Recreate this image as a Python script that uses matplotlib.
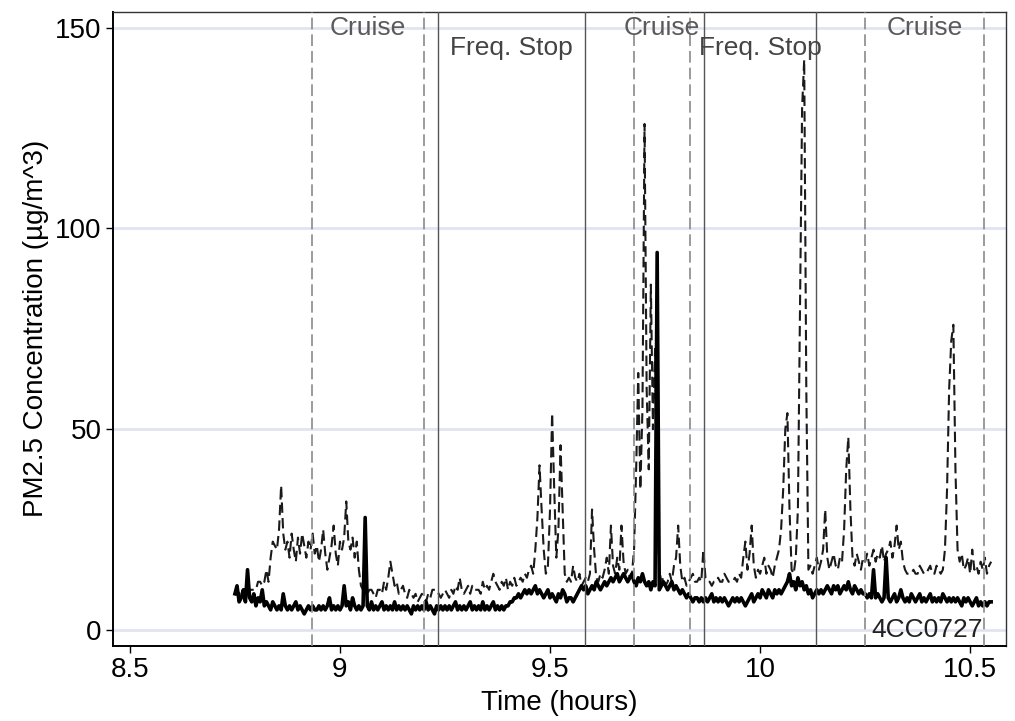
"""
PM2.5 concentration trace with cruise / frequent-stop segments marked.
"""
import numpy as np
import matplotlib.pyplot as plt

plt.rcParams["font.family"] = ["Liberation Sans", "DejaVu Sans"]

# sample times: 8.75 h to 10.55 h every 0.005 h
T_START = 8.75
T_STEP = 0.005

# thick solid trace
solid_vals = [
    9, 11, 7, 8, 10, 7, 15, 8, 7, 9, 6, 8, 7, 10, 6, 7, 6, 5, 7, 6,
    5, 6, 5, 9, 6, 5, 6, 5, 6, 7, 5, 6, 5, 4, 5, 6, 5, 6, 5, 5,
    6, 5, 6, 5, 6, 8, 5, 6, 5, 6, 5, 6, 11, 6, 7, 5, 8, 6, 5, 6,
    5, 6, 28, 6, 5, 7, 5, 6, 5, 6, 7, 5, 6, 5, 6, 5, 7, 5, 6, 5,
    6, 5, 6, 5, 4, 6, 5, 6, 5, 6, 5, 7, 5, 6, 5, 4, 6, 5, 6, 5,
    6, 5, 6, 5, 6, 7, 5, 6, 5, 6, 5, 6, 7, 5, 6, 5, 6, 5, 7, 5,
    6, 5, 6, 7, 5, 6, 5, 6, 5, 6, 6, 7, 7, 8, 8, 9, 8, 9, 10, 9,
    10, 9, 10, 11, 9, 10, 9, 8, 9, 10, 8, 9, 8, 7, 9, 8, 10, 9, 7, 8,
    8, 7, 8, 9, 10, 11, 10, 11, 9, 10, 11, 10, 12, 11, 10, 11, 12, 11, 12, 13,
    12, 13, 14, 12, 13, 14, 13, 12, 13, 14, 12, 11, 13, 12, 14, 12, 11, 12, 10, 12,
    11, 94, 10, 11, 12, 11, 10, 11, 12, 10, 11, 10, 9, 10, 9, 8, 9, 8, 7, 8,
    8, 7, 8, 7, 8, 7, 8, 9, 7, 8, 7, 8, 7, 8, 7, 6, 7, 8, 7, 8,
    7, 8, 7, 6, 7, 8, 9, 7, 8, 9, 8, 10, 9, 8, 10, 9, 8, 10, 9, 10,
    9, 10, 11, 12, 14, 11, 12, 10, 13, 11, 12, 10, 11, 9, 10, 8, 9, 10, 9, 10,
    9, 10, 11, 10, 9, 11, 10, 11, 9, 10, 11, 10, 12, 10, 9, 11, 10, 9, 10, 9,
    9, 8, 9, 8, 15, 8, 9, 8, 7, 8, 18, 8, 7, 8, 9, 7, 8, 10, 8, 7,
    8, 7, 9, 8, 7, 8, 9, 7, 8, 7, 8, 9, 7, 8, 7, 8, 7, 9, 8, 7,
    8, 7, 8, 7, 8, 7, 6, 8, 7, 8, 7, 6, 7, 8, 6, 7, 6, 7, 6, 7,
    7,
]

# thin dashed trace
dashed_vals = [
    9, 10, 9, 10, 10, 10, 10, 10, 10, 10, 10, 12, 12, 11, 12, 15, 12, 18, 22, 21,
    20, 25, 36, 24, 20, 22, 18, 24, 20, 17, 23, 19, 24, 21, 18, 22, 20, 24, 19, 21,
    17, 20, 25, 19, 15, 18, 21, 26, 19, 16, 22, 20, 23, 32, 22, 20, 23, 18, 22, 15,
    11, 10, 10, 9, 10, 10, 9, 8, 10, 10, 9, 12, 10, 13, 17, 14, 11, 12, 9, 10,
    11, 9, 8, 10, 9, 8, 9, 7, 8, 9, 8, 7, 9, 8, 10, 10, 10, 9, 8, 9,
    10, 9, 8, 10, 9, 11, 10, 13, 10, 9, 10, 11, 9, 11, 10, 10, 10, 9, 12, 10,
    11, 10, 12, 14, 12, 11, 10, 12, 11, 13, 10, 12, 11, 13, 11, 12, 13, 12, 14, 13,
    15, 16, 14, 20, 28, 41, 30, 20, 14, 16, 30, 54, 35, 18, 25, 46, 30, 14, 12, 13,
    12, 16, 13, 12, 14, 11, 12, 13, 12, 14, 30, 20, 13, 12, 14, 13, 15, 18, 14, 26,
    16, 14, 18, 15, 26, 17, 14, 15, 13, 14, 20, 40, 64, 35, 55, 126, 60, 40, 86, 50,
    70, 30, 15, 12, 13, 11, 12, 14, 12, 16, 18, 26, 16, 12, 13, 11, 12, 13, 14, 12,
    12, 13, 12, 20, 13, 12, 12, 11, 12, 12, 13, 12, 12, 14, 13, 12, 12, 12, 13, 12,
    14, 13, 18, 22, 15, 19, 26, 16, 13, 15, 14, 16, 18, 14, 16, 15, 13, 16, 18, 20,
    25, 35, 50, 54, 30, 15, 14, 18, 30, 80, 130, 142, 60, 15, 16, 14, 16, 18, 15, 17,
    20, 30, 18, 15, 17, 19, 16, 15, 18, 17, 25, 40, 48, 30, 18, 16, 19, 17, 15, 18,
    17, 19, 16, 18, 20, 17, 19, 18, 21, 17, 19, 20, 22, 18, 21, 26, 20, 22, 17, 15,
    14, 14, 14, 15, 14, 14, 16, 15, 14, 14, 15, 16, 14, 14, 16, 15, 14, 15, 20, 35,
    60, 72, 76, 40, 20, 17, 19, 15, 16, 18, 14, 20, 15, 16, 14, 17, 15, 18, 14, 16,
    17,
]

# segment boundaries (hours)
cruise_bounds = [(8.933, 9.200), (9.700, 9.833), (10.250, 10.533)]
stop_bounds = [(9.233, 9.583), (9.867, 10.133)]
y_ticks = [0, 50, 100, 150]
x_ticks = [8.5, 9, 9.5, 10, 10.5]
x_tick_labels = ["8.5", "9", "9.5", "10", "10.5"]
unit_id = "4CC0727"


def main():
    t = T_START + T_STEP * np.arange(len(solid_vals))

    fig = plt.figure(figsize=(10.15, 7.21), dpi=100)
    ax = fig.add_axes([0.111, 0.104, 0.880, 0.880])

    for yv in y_ticks:
        ax.axhline(yv, color="#e1e4f0", lw=2.0, zorder=0)

    ax.plot(t, dashed_vals, color="#1a1a1a", lw=1.5, ls=(0, (5, 2.5)), zorder=2)
    ax.plot(t, solid_vals, color="black", lw=2.6, zorder=3)

    for a, b in cruise_bounds:
        for xv in (a, b):
            ax.axvline(xv, color="#8a8a8a", lw=1.2, ls=(0, (7, 3)), zorder=4)
        ax.text((a + b) / 2, 150, "Cruise", ha="center", va="center",
                fontsize=19, color="#5a5a5a", zorder=5)
    for a, b in stop_bounds:
        for xv in (a, b):
            ax.axvline(xv, color="#555555", lw=1.0, zorder=4)
        ax.text((a + b) / 2, 145, "Freq. Stop", ha="center", va="center",
                fontsize=19, color="#444444", zorder=5)

    ax.text(10.398, 0, unit_id, ha="center", va="center", fontsize=19,
            color="#222222", zorder=5)

    ax.set_xlim(8.459, 10.585)
    ax.set_ylim(-4, 154)
    ax.set_xticks(x_ticks, x_tick_labels)
    ax.set_yticks(y_ticks)
    ax.tick_params(labelsize=20, length=5, width=1, color="black", pad=3)
    ax.set_xlabel("Time (hours)", fontsize=20, labelpad=5)
    ax.set_ylabel("PM2.5 Concentration (µg/m^3)", fontsize=20, labelpad=4)

    for side in ("left", "bottom"):
        ax.spines[side].set_linewidth(1.4)
        ax.spines[side].set_color("black")
    for side in ("top", "right"):
        ax.spines[side].set_linewidth(1.0)
        ax.spines[side].set_color("#333333")

    fig.savefig("out.png", dpi=100)
    plt.close(fig)


if __name__ == "__main__":
    main()
